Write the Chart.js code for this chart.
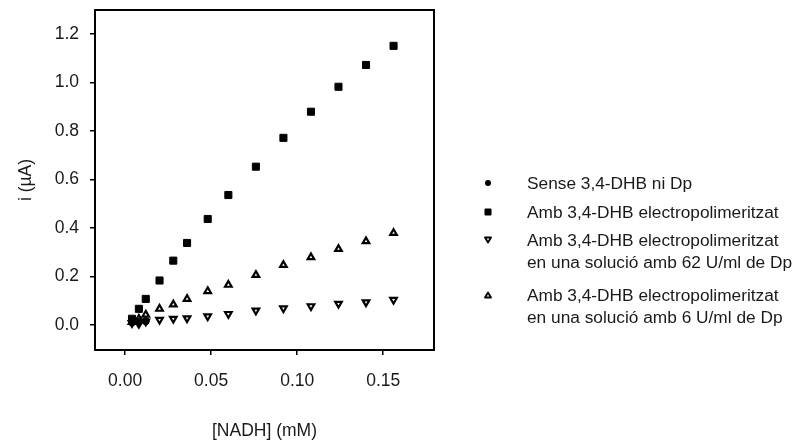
<!DOCTYPE html>
<html>
<head>
<meta charset="utf-8">
<script src="https://cdn.jsdelivr.net/npm/chart.js@4"></script>
<style>
  html, body { margin: 0; padding: 0; background: #fff; }
  #wrap { position: relative; width: 799px; height: 444px; }
  canvas { position: absolute; left: 0; top: 0; }
  .leg { position: absolute; left: 527px; font-family: "Liberation Sans", Arial, sans-serif;
         font-size: 17.3px; line-height: 22px; color: #1a1a1a; white-space: nowrap; }
  .mk { position: absolute; left: 481px; width: 14px; height: 14px; }
</style>
</head>
<body>
<div id="wrap">
  <canvas id="c" width="799" height="444"></canvas>
</div>
<script>
// ---- data ----
const nadh = [0.004, 0.008, 0.012, 0.020, 0.028, 0.036, 0.048, 0.060, 0.076, 0.092, 0.108, 0.124, 0.140, 0.156];
const senseDHB = [0.010, 0.012, 0.015];
const ambDHB = [0.025, 0.066, 0.107, 0.183, 0.265, 0.338, 0.437, 0.536, 0.653, 0.772, 0.880, 0.983, 1.073, 1.152];
const ambDp62 = [0.007, 0.004, 0.014, 0.021, 0.025, 0.027, 0.035, 0.045, 0.059, 0.068, 0.077, 0.087, 0.093, 0.103];
const ambDp6 = [0.012, 0.025, 0.042, 0.066, 0.084, 0.107, 0.139, 0.165, 0.206, 0.247, 0.279, 0.313, 0.345, 0.379];
const xTicks = [0.00, 0.05, 0.10, 0.15];
const yTicks = [0.0, 0.2, 0.4, 0.6, 0.8, 1.0, 1.2];
const seriesNames = [
  ["Sense 3,4-DHB ni Dp"],
  ["Amb 3,4-DHB electropolimeritzat"],
  ["Amb 3,4-DHB electropolimeritzat", "en una solució amb 62 U/ml de Dp"],
  ["Amb 3,4-DHB electropolimeritzat", "en una solució amb 6 U/ml de Dp"]
];
const xTitle = "[NADH] (mM)";
const yTitle = "i (\u00B5A)";

const pts = (ys) => ys.map((y, i) => ({x: nadh[i], y}));
const FONT = '"Liberation Sans", Arial, sans-serif';

const framePlugin = {
  id: 'frame',
  afterDatasetsDraw(chart) {
    const {ctx, chartArea: a} = chart;
    ctx.save();
    ctx.strokeStyle = '#000';
    ctx.lineWidth = 2;
    ctx.strokeRect(a.left, a.top, a.right - a.left, a.bottom - a.top);
    ctx.restore();
  }
};

new Chart(document.getElementById('c'), {
  type: 'scatter',
  data: {
    datasets: [
      { label: seriesNames[0].join(' '), data: pts(senseDHB), pointStyle: 'circle', pointRadius: 3.5,
        backgroundColor: '#000', borderColor: '#000', borderWidth: 1 },
      { label: seriesNames[2].join(' '), data: pts(ambDp62), pointStyle: 'triangle', rotation: 180, pointRadius: 3.8,
        backgroundColor: '#fff', borderColor: '#000', borderWidth: 2.2 },
      { label: seriesNames[3].join(' '), data: pts(ambDp6), pointStyle: 'triangle', pointRadius: 3.8,
        backgroundColor: '#fff', borderColor: '#000', borderWidth: 2.2 },
      { label: seriesNames[1].join(' '), data: pts(ambDHB), pointStyle: 'rect', pointRadius: 5,
        backgroundColor: '#000', borderColor: '#000', borderWidth: 1 }
    ]
  },
  options: {
    responsive: false,
    animation: false,
    events: [],
    layout: { padding: { top: 10, right: 365, left: 0, bottom: 0 } },
    plugins: { legend: { display: false }, tooltip: { enabled: false } },
    scales: {
      x: {
        type: 'linear', min: -0.0175, max: 0.1795,
        afterBuildTicks: (s) => { s.ticks = xTicks.map(v => ({value: v})); },
        afterFit: (s) => { s.height = 94; s.paddingLeft = 0; s.paddingRight = 0; },
        grid: { drawOnChartArea: false, tickLength: 5, color: '#000', lineWidth: 1.5 },
        border: { display: true, color: '#000', width: 2 },
        ticks: { color: '#1a1a1a', font: { family: FONT, size: 17.5 }, padding: 16,
                 callback: (v) => Number(v).toFixed(2) },
        title: { display: true, text: xTitle, color: '#1a1a1a', font: { family: FONT, size: 17.5 },
                 padding: { top: 0, bottom: 2 } }
      },
      y: {
        type: 'linear', min: -0.104, max: 1.3,
        afterBuildTicks: (s) => { s.ticks = yTicks.map(v => ({value: v})); },
        afterFit: (s) => { s.width = 95; s.paddingTop = 0; s.paddingBottom = 0; },
        grid: { drawOnChartArea: false, tickLength: 5, color: '#000', lineWidth: 1.5 },
        border: { display: true, color: '#000', width: 2 },
        ticks: { color: '#1a1a1a', font: { family: FONT, size: 17.5 }, padding: 11,
                 callback: (v) => Number(v).toFixed(1) },
        title: { display: true, text: yTitle, color: '#1a1a1a', font: { family: FONT, size: 17.5 },
                 padding: { top: 16, bottom: 0 } }
      }
    }
  },
  plugins: [framePlugin]
});

// ---- legend (HTML) ----
const wrap = document.getElementById('wrap');
const rowCenters = [183, 212, 240, 295];
const markerSvg = [
  '<circle cx="7" cy="7" r="3" fill="#000"/>',
  '<rect x="3.5" y="3.5" width="7" height="7" rx="1" fill="#000"/>',
  '<path d="M4 4.5 L10 4.5 L7 9.5 Z" fill="#fff" stroke="#000" stroke-width="1.8" stroke-linejoin="round"/>',
  '<path d="M4 9.5 L10 9.5 L7 4.5 Z" fill="#fff" stroke="#000" stroke-width="1.8" stroke-linejoin="round"/>'
];
seriesNames.forEach((lines, i) => {
  const c = rowCenters[i];
  const t = document.createElement('div');
  t.className = 'leg';
  t.style.top = (c - 11) + 'px';
  t.innerHTML = lines.join('<br>');
  wrap.appendChild(t);
  const m = document.createElement('div');
  m.className = 'mk';
  m.style.top = (c - 7) + 'px';
  m.innerHTML = '<svg width="14" height="14" viewBox="0 0 14 14">' + markerSvg[i] + '</svg>';
  wrap.appendChild(m);
});
</script>
</body>
</html>
